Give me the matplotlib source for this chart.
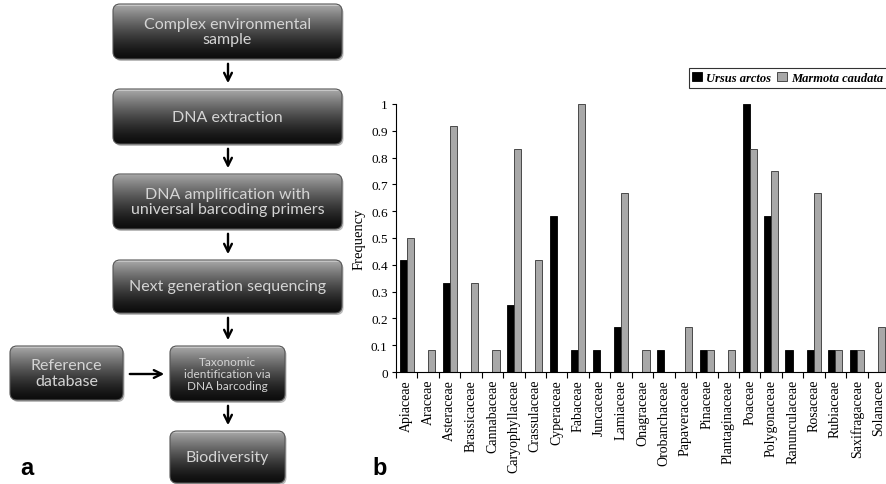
import numpy as np
import matplotlib
matplotlib.use("Agg")
import matplotlib.pyplot as plt
from matplotlib.patches import FancyBboxPatch, Patch

families = [
    "Apiaceae", "Araceae", "Asteraceae", "Brassicaceae", "Cannabaceae",
    "Caryophyllaceae", "Crassulaceae", "Cyperaceae", "Fabaceae", "Juncaceae",
    "Lamiaceae", "Onagraceae", "Orobanchaceae", "Papaveraceae", "Pinaceae",
    "Plantaginaceae", "Poaceae", "Polygonaceae", "Ranunculaceae", "Rosaceae",
    "Rubiaceae", "Saxifragaceae", "Solanacee",
]
ursus = [0.417, 0, 0.333, 0, 0, 0.25, 0, 0.583, 0.083, 0.083,
         0.167, 0, 0.083, 0, 0.083, 0, 1.0, 0.583, 0.083, 0.083,
         0.083, 0.083, 0]
marmota = [0.5, 0.083, 0.917, 0.333, 0.083, 0.833, 0.417, 0, 1.0, 0,
           0.667, 0.083, 0, 0.167, 0.083, 0.083, 0.833, 0.75, 0, 0.667,
           0.083, 0.083, 0.167]

# flowchart boxes: (x, y, w, h, text, fontsize) in pixel space
boxes = [
    (113, 5, 229, 55, "Complex environmental\nsample", 11.5),
    (113, 90, 229, 55, "DNA extraction", 11.5),
    (113, 175, 229, 55, "DNA amplification with\nuniversal barcoding primers", 11.5),
    (113, 261, 229, 53, "Next generation sequencing", 11.5),
    (10, 347, 113, 54, "Reference\ndatabase", 11.5),
    (170, 347, 115, 55, "Taxonomic\nidentification via\nDNA barcoding", 8.5),
    (170, 432, 115, 52, "Biodiversity", 11.5),
]
arrows = [
    ((228, 62), (228, 87)),
    ((228, 147), (228, 172)),
    ((228, 232), (228, 258)),
    ((228, 316), (228, 344)),
    ((127, 375), (167, 375)),
    ((228, 404), (228, 429)),
]

W, H = 887, 485
fig = plt.figure(figsize=(W / 100, H / 100), dpi=100)

# ---- panel a: flowchart in pixel coordinates
bg = fig.add_axes([0, 0, 1, 1])
bg.set_xlim(0, W)
bg.set_ylim(H, 0)
bg.axis("off")

t = np.linspace(0, 1, 100)[:, None]
shade = 0.05 + 0.62 * (1 - t) ** 1.4
shade[:3] = 0.85
grad = np.dstack([shade, shade, shade])

for x, y, w, h, text, fs in boxes:
    shadow = FancyBboxPatch((x + 1.5, y + 2), w, h, boxstyle="round,pad=0,rounding_size=7",
                            fc="#bbbbbb", ec="none", zorder=1)
    bg.add_patch(shadow)
    patch = FancyBboxPatch((x, y), w, h, boxstyle="round,pad=0,rounding_size=7",
                           fc="none", ec="#555555", lw=0.8, zorder=3)
    bg.add_patch(patch)
    im = bg.imshow(grad, extent=(x, x + w, y + h, y), origin="upper",
                   aspect="auto", zorder=2, interpolation="bilinear")
    im.set_clip_path(patch)
    bg.text(x + w / 2, y + h / 2, text, ha="center", va="center", color="#d4d4d4",
            fontsize=fs, family="Lato", linespacing=1.15, zorder=4)

for (x0, y0), (x1, y1) in arrows:
    bg.annotate("", xy=(x1, y1), xytext=(x0, y0),
                arrowprops=dict(arrowstyle="->", lw=1.7, color="black", mutation_scale=14))

bg.text(20, 475, "a", fontsize=17, fontweight="bold", family="Liberation Sans", va="baseline")
bg.text(372, 475, "b", fontsize=17, fontweight="bold", family="Liberation Sans", va="baseline")

# ---- panel b: bar chart
ax = fig.add_axes([396 / W, 1 - 373 / H, (W - 396 + 2) / W, (373 - 105) / H])
x = np.arange(len(families))
bw = 0.33
ax.bar(x - bw / 2, ursus, bw, color="black", edgecolor="black", lw=0.6, label="Ursus arctos")
ax.bar(x + bw / 2, marmota, bw, color="#a8a8a8", edgecolor="#333333", lw=0.6,
       label="Marmota caudata")
ax.set_xlim(-0.5, len(families) - 0.5)
ax.set_ylim(0, 1)
ax.set_yticks(np.arange(0, 1.01, 0.1))
ax.set_yticklabels(["0", "0.1", "0.2", "0.3", "0.4", "0.5", "0.6", "0.7", "0.8", "0.9", "1"],
                   family="Liberation Serif", fontsize=9.5)
ax.set_xticks(x)
ax.set_xticklabels(families, rotation=90, family="Liberation Serif", fontsize=10)
ax.set_xticks(np.arange(-0.5, len(families)), minor=True)
ax.tick_params(axis="x", which="major", length=0, pad=5)
ax.tick_params(axis="x", which="minor", length=4, width=0.8, direction="out")
ax.tick_params(axis="y", length=3, width=0.8, direction="out", pad=3)
for s in ["top", "right"]:
    ax.spines[s].set_visible(False)
ax.spines["left"].set_linewidth(0.8)
ax.spines["bottom"].set_linewidth(0.8)
ax.set_ylabel("Frequency", family="Liberation Serif", fontsize=10.5, labelpad=4)

handles = [Patch(fc="black", ec="black", lw=0.6), Patch(fc="#a8a8a8", ec="#333333", lw=0.6)]
leg = fig.legend(handles, ["Ursus arctos", "Marmota caudata"], loc="upper right",
                 bbox_to_anchor=(1.0, 1 - 69 / H), ncol=2, frameon=True, fancybox=False,
                 prop=dict(family="Liberation Serif", style="italic", weight="bold", size=9),
                 handlelength=0.8, handleheight=0.8, handletextpad=0.3, columnspacing=0.5,
                 borderpad=0.3, borderaxespad=0)
leg.get_frame().set_edgecolor("black")
leg.get_frame().set_linewidth(0.8)

fig.savefig("out.png", dpi=100)
